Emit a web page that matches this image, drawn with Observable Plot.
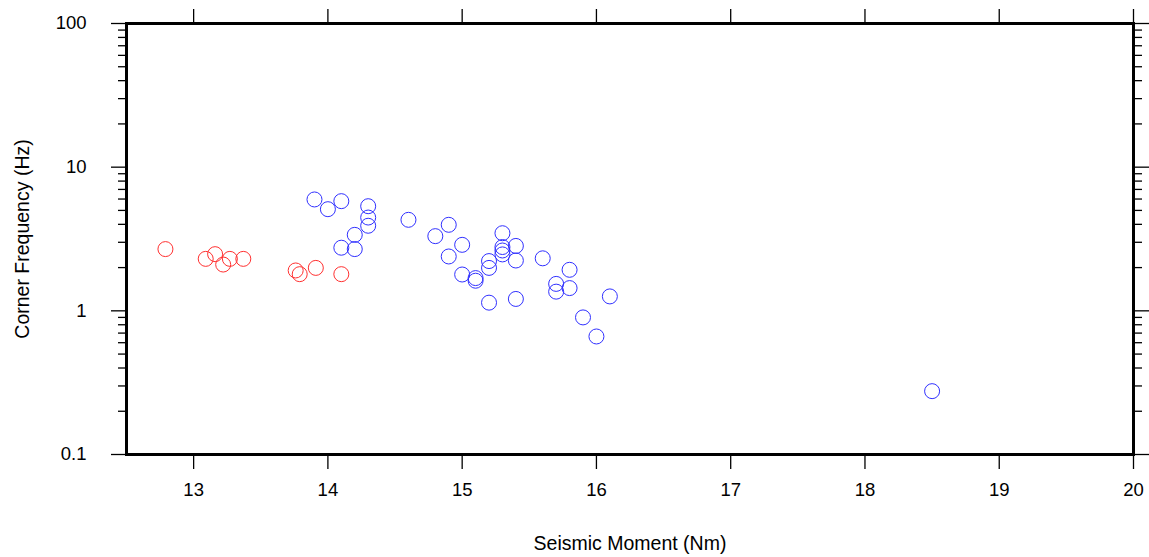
<!DOCTYPE html>
<html><head><meta charset="utf-8">
<script src="https://cdn.jsdelivr.net/npm/d3@7"></script>
<script src="https://cdn.jsdelivr.net/npm/@observablehq/plot@0.6"></script>
<style>body{margin:0;background:#fff} svg{display:block}</style>
</head><body><div id="chart"></div>
<script>
// Red group (seismic moment, corner frequency)
const redMoment = [12.79, 13.09, 13.16, 13.22, 13.27, 13.37, 13.76, 13.79, 13.91, 14.10];
const redFreq   = [2.69, 2.30, 2.48, 2.10, 2.30, 2.30, 1.91, 1.80, 1.99, 1.80];
// Blue group
const blueMoment = [13.9, 14.0, 14.1, 14.3, 14.3, 14.3, 14.2, 14.1, 14.2, 14.6,
                    14.9, 14.8, 15.0, 14.9, 15.0, 15.1, 15.1, 15.2, 15.2, 15.2,
                    15.3, 15.3, 15.3, 15.3, 15.4, 15.4, 15.4, 15.6, 15.8, 15.7,
                    15.7, 15.8, 16.1, 15.9, 16.0, 18.5];
const blueFreq   = [5.96, 5.10, 5.80, 5.35, 4.46, 3.91, 3.38, 2.75, 2.69, 4.30,
                    3.97, 3.31, 2.88, 2.39, 1.79, 1.69, 1.62, 2.22, 1.99, 1.14,
                    3.47, 2.78, 2.63, 2.47, 2.83, 2.24, 1.21, 2.32, 1.93, 1.54,
                    1.36, 1.44, 1.26, 0.90, 0.663, 0.276];

const xTicks = [13, 14, 15, 16, 17, 18, 19, 20];
const yMajorTicks = [0.1, 1, 10, 100];
const yMinorTicks = [0.2,0.3,0.4,0.5,0.6,0.7,0.8,0.9, 2,3,4,5,6,7,8,9, 20,30,40,50,60,70,80,90];

const red = redMoment.map((m, i) => ({m, f: redFreq[i]}));
const blue = blueMoment.map((m, i) => ({m, f: blueFreq[i]}));

const tickStroke = 1.3;
const tickFont = 18.5;
const labelFont = 19.5;
const chart = Plot.plot({
  width: 1149,
  height: 557,
  marginLeft: 126,
  marginRight: 16,
  marginTop: 23,
  marginBottom: 103,
  style: {fontFamily: "'Liberation Sans', Arial, Helvetica, sans-serif", fontSize: "18px", background: "white", color: "black", overflow: "visible"},
  x: {domain: [12.5, 20]},
  y: {type: "log", domain: [0.1, 100]},
  marks: [
    Plot.axisX({anchor: "bottom", ticks: xTicks, tickSize: 15, tickPadding: 13, strokeWidth: tickStroke, fontSize: tickFont,
      tickFormat: d => String(d), label: null}),
    Plot.axisX({anchor: "bottom", ticks: [], tickSize: 0, fontSize: labelFont,
      label: "Seismic Moment (Nm)", labelAnchor: "center", labelArrow: "none", labelOffset: 95}),
    Plot.axisX({anchor: "top", ticks: xTicks, tickSize: 15, strokeWidth: tickStroke, tickFormat: () => "", label: null}),
    Plot.axisY({anchor: "left", ticks: yMajorTicks, tickSize: 15, tickPadding: 25, strokeWidth: tickStroke, fontSize: tickFont,
      tickFormat: d => String(d), label: null}),
    Plot.axisY({anchor: "left", ticks: [], tickSize: 0, fontSize: labelFont,
      label: "Corner Frequency (Hz)", labelAnchor: "center", labelArrow: "none", labelOffset: 111}),
    Plot.axisY({anchor: "left", ticks: yMinorTicks, tickSize: 8, strokeWidth: tickStroke, tickFormat: () => "", label: null}),
    Plot.axisY({anchor: "right", ticks: yMajorTicks, tickSize: 15, strokeWidth: tickStroke, tickFormat: () => "", label: null}),
    Plot.axisY({anchor: "right", ticks: yMinorTicks, tickSize: 8, strokeWidth: tickStroke, tickFormat: () => "", label: null}),
    Plot.dot(red, {x: "m", y: "f", r: 7.5, stroke: "#ff3030", strokeWidth: 1}),
    Plot.dot(blue, {x: "m", y: "f", r: 7.5, stroke: "#3030ff", strokeWidth: 1}),
    Plot.frame({stroke: "black", strokeWidth: 3})
  ]
});
document.getElementById("chart").append(chart);
</script>
</body></html>
